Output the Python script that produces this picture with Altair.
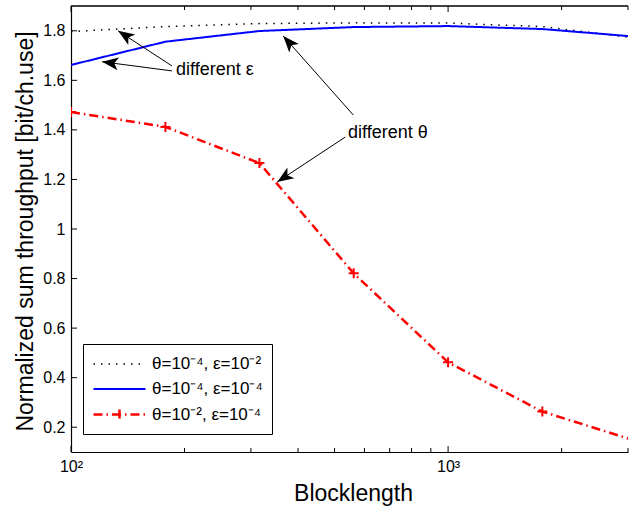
import math
import altair as alt
import pandas as pd

# ---------------- data ----------------
blocklength = [100, 178, 316, 562, 1000, 1778, 3162]
series_names = ["θ=10⁻⁴, ε=10⁻²", "θ=10⁻⁴, ε=10⁻⁴", "θ=10⁻², ε=10⁻⁴"]
thr_theta4_eps2 = [1.797, 1.817, 1.829, 1.832, 1.831, 1.817, 1.770]
thr_theta4_eps4 = [1.662, 1.756, 1.799, 1.815, 1.819, 1.807, 1.776]
thr_theta2_eps4 = [1.472, 1.412, 1.266, 0.821, 0.462, 0.263, 0.144]

x_major_ticks = [100, 1000]
x_minor_ticks = [200, 300, 400, 500, 600, 700, 800, 900, 2000, 3000]
y_ticks = [0.2, 0.4, 0.6, 0.8, 1.0, 1.2, 1.4, 1.6, 1.8]

note_text = ["different ε", "different θ"]
note_x = [190, 543]
note_y = [1.642, 1.387]

arrow_tail_x = [185.3, 185.3, 560.6, 533.9]
arrow_tail_y = [1.658, 1.638, 1.460, 1.371]
arrow_tip_x = [133.3, 120.9, 365.4, 352.3]
arrow_tip_y = [1.800, 1.675, 1.779, 1.190]

# ---------------- styling ----------------
W, H = 557, 446
X_DOMAIN = [100, 3000]
Y_DOMAIN = [0.1, 1.9]
FONT = "Liberation Sans"
colors = ["#000000", "#0000ff", "#ff0000"]
dashes = [[1.5, 6], [1, 0], [9, 4, 1.5, 4]]
widths = [1.5, 2.5, 2]
LINE_PATH = "M-1,0L4.2,0"
LINE_CROSS_PATH = "M-1,0L4.2,0M1.6,-0.5L1.6,0.5"
CROSS_PATH = "M-1,0L1,0M0,-1L0,1"
ARROW_PATH = "M0,0L0.7,1.8L0,1.35L-0.7,1.8Z"

x_scale = alt.Scale(type="log", domain=X_DOMAIN, nice=False)
y_scale = alt.Scale(domain=Y_DOMAIN, nice=False, zero=False)

x_axis = alt.Axis(
    values=x_major_ticks,
    labelExpr="datum.value == 100 ? '10²' : '10³'",
    ticks=False, tickSize=0, grid=False, labelFlush=False,
    labelFontSize=16, labelPadding=6, labelOverlap=False,
    title="Blocklength", titleFontSize=23, titleFontWeight="normal",
    titleX=282, titleY=48, titleBaseline="alphabetic", titleAlign="center",
)
y_axis = alt.Axis(
    values=y_ticks, format="~g",
    ticks=False, tickSize=0, grid=False, labelFlush=False,
    labelFontSize=16, labelPadding=6, labelOverlap=False,
    title="Normalized sum throughput [bit/ch.use]", titleFontSize=23,
    titleFontWeight="normal", titleX=-39, titleY=225, titleAngle=270,
    titleBaseline="alphabetic", titleAlign="center",
)


def X(field="x"):
    return alt.X(f"{field}:Q", scale=x_scale, axis=x_axis)


def Y(field="y"):
    return alt.Y(f"{field}:Q", scale=y_scale, axis=y_axis)


legend = alt.Legend(
    title=None, orient="none", legendX=12, legendY=338,
    labelFont=FONT, labelFontSize=17, labelOffset=37, labelColor="black",
    symbolSize=400, padding=9, rowPadding=6,
    strokeColor="black", fillColor="white",
)
color_enc = alt.Color("series:N", scale=alt.Scale(domain=series_names, range=colors), legend=legend)
dash_enc = alt.StrokeDash("series:N", scale=alt.Scale(domain=series_names, range=dashes), legend=legend)
width_enc = alt.StrokeWidth("series:N", scale=alt.Scale(domain=series_names, range=widths), legend=legend)
shape_enc = alt.Shape("series:N", scale=alt.Scale(domain=series_names,
                                                  range=[LINE_PATH, LINE_PATH, LINE_CROSS_PATH]), legend=legend)

# ---------------- tables ----------------
rows = []
for name, vals in zip(series_names, [thr_theta4_eps2, thr_theta4_eps4, thr_theta2_eps4]):
    for xv, yv in zip(blocklength, vals):
        rows.append({"x": xv, "y": yv, "series": name})
line_df = pd.DataFrame(rows)
marker_df = pd.DataFrame({"x": blocklength, "y": thr_theta2_eps4})


def to_px(xv, yv):
    px = W * (math.log10(xv) - math.log10(X_DOMAIN[0])) / (math.log10(X_DOMAIN[1]) - math.log10(X_DOMAIN[0]))
    py = H * (Y_DOMAIN[1] - yv) / (Y_DOMAIN[1] - Y_DOMAIN[0])
    return px, py


angles = []
for tx, ty, hx, hy in zip(arrow_tail_x, arrow_tail_y, arrow_tip_x, arrow_tip_y):
    ax, ay = to_px(tx, ty)
    bx, by = to_px(hx, hy)
    angles.append(math.degrees(math.atan2(bx - ax, -(by - ay))) % 360)

arrow_df = pd.DataFrame({"x": arrow_tail_x, "y": arrow_tail_y,
                         "x2": arrow_tip_x, "y2": arrow_tip_y, "angle": angles})
head_df = pd.DataFrame({"x": arrow_tip_x, "y": arrow_tip_y, "angle": angles})
note_df = pd.DataFrame({"x": note_x, "y": note_y, "text": note_text})

xmaj_df = pd.DataFrame({"x": x_major_ticks})
xmin_df = pd.DataFrame({"x": x_minor_ticks})
ytick_df = pd.DataFrame({"y": y_ticks})

# ---------------- layers ----------------
lines = alt.Chart(line_df).mark_line(clip=True).encode(
    x=X(), y=Y(), color=color_enc, strokeDash=dash_enc, strokeWidth=width_enc,
    order="x:Q",
)
markers = alt.Chart(marker_df).mark_point(
    shape=CROSS_PATH, size=100, filled=False, strokeWidth=2, color="#ff0000", clip=True, opacity=1
).encode(x=X(), y=Y())

legend_only = alt.Chart(line_df).transform_filter("datum.x < 0").mark_point(filled=False, opacity=1).encode(
    x=X(), y=Y(), color=color_enc, strokeDash=dash_enc, strokeWidth=width_enc, shape=shape_enc,
)

arrow_lines = alt.Chart(arrow_df).mark_rule(color="black", strokeWidth=1).encode(
    x=X(), y=Y(), x2="x2:Q", y2="y2:Q"
)
arrow_heads = alt.Chart(head_df).mark_point(
    shape=ARROW_PATH, size=330, filled=True, color="black", opacity=1
).encode(x=X(), y=Y(), angle=alt.Angle("angle:Q", scale=None))
notes = alt.Chart(note_df).mark_text(
    align="left", baseline="middle", font=FONT, fontSize=18, color="black"
).encode(x=X(), y=Y(), text="text:N")

xt_bottom_major = alt.Chart(xmaj_df).mark_rule(color="black").encode(
    x=X(), y=alt.value(H), y2=alt.value(H - 6))
xt_bottom_minor = alt.Chart(xmin_df).mark_rule(color="black").encode(
    x=X(), y=alt.value(H), y2=alt.value(H - 4))
xt_top_major = alt.Chart(xmaj_df).mark_rule(color="black").encode(
    x=X(), y=alt.value(0), y2=alt.value(6))
xt_top_minor = alt.Chart(xmin_df).mark_rule(color="black").encode(
    x=X(), y=alt.value(0), y2=alt.value(4))
yt_left = alt.Chart(ytick_df).mark_rule(color="black").encode(
    y=Y(), x=alt.value(0), x2=alt.value(6))
top_border = alt.Chart(xmaj_df).mark_rule(color="black", strokeWidth=1.2).encode(
    x=alt.value(0), x2=alt.value(W), y=alt.value(0))

chart = alt.layer(
    top_border, xt_bottom_major, xt_bottom_minor, xt_top_major, xt_top_minor, yt_left,
    lines, markers, legend_only, arrow_lines, arrow_heads, notes,
).properties(
    width=W, height=H,
    autosize=alt.AutoSizeParams(type="none"),
    padding={"left": 71, "top": 6, "right": 1, "bottom": 57},
    background="white",
).configure_view(stroke="transparent").configure_axis(
    labelFont=FONT, titleFont=FONT, labelColor="black", titleColor="black",
    domainColor="black", domainWidth=1.2,
).configure_legend(labelFont=FONT)

chart.save("out.html", embed_options={"renderer": "svg", "actions": False})
